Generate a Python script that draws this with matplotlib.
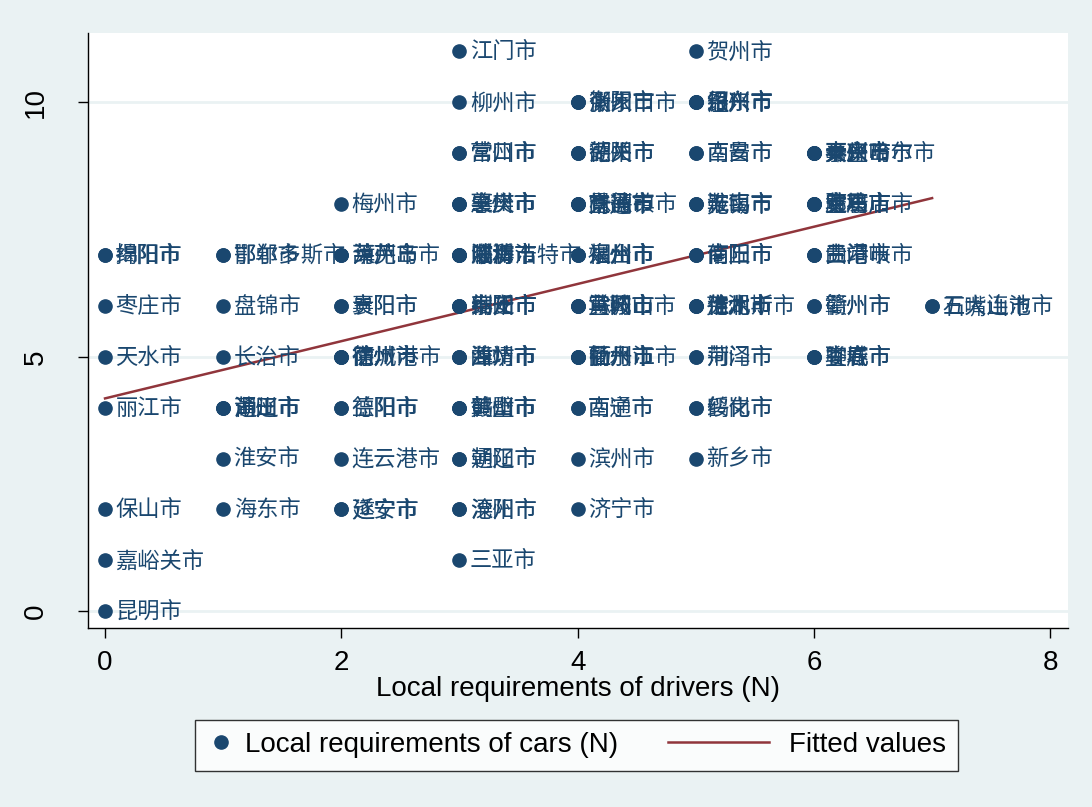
import matplotlib.pyplot as plt
import numpy as np
from matplotlib.legend_handler import HandlerLine2D

plt.rcParams['font.family'] = ['Liberation Sans', 'Noto Sans CJK SC', 'DejaVu Sans']

# cities grouped by (drivers, cars) requirement counts
drivers = [0, 0, 0, 0, 0, 0, 0,
           1, 1, 1, 1, 1, 1,
           2, 2, 2, 2, 2, 2, 2,
           3, 3, 3, 3, 3, 3, 3, 3, 3, 3, 3,
           4, 4, 4, 4, 4, 4, 4, 4, 4,
           5, 5, 5, 5, 5, 5, 5, 5, 5,
           6, 6, 6, 6, 6,
           7]
cars = [7, 6, 5, 4, 2, 1, 0,
        7, 6, 5, 4, 3, 2,
        8, 7, 6, 5, 4, 3, 2,
        11, 10, 9, 8, 7, 6, 5, 4, 3, 2, 1,
        10, 9, 8, 7, 6, 5, 4, 3, 2,
        11, 10, 9, 8, 7, 6, 5, 4, 3,
        9, 8, 7, 6, 5,
        6]
cities = [
    ["揭阳市", "绵阳市"], ["枣庄市"], ["天水市"], ["丽江市"], ["保山市"], ["嘉峪关市"], ["昆明市"],
    ["鄂尔多斯市", "邯郸市"], ["盘锦市"], ["长治市"], ["莆田市", "湖州市", "通辽市"], ["淮安市"], ["海东市"],
    ["梅州市"], ["漳州市", "莱芜市", "葫芦岛市"], ["贵阳市", "襄阳市"],
    ["徐州市", "德州市", "宿州市", "防城港市"], ["德阳市", "益阳市"], ["连云港市"], ["遂宁市", "延安市"],
    ["江门市"], ["柳州市"], ["营口市", "常州市"], ["惠州市", "肇庆市", "襄樊市"],
    ["呼和浩特市", "淄博市", "潍坊市", "临沂市", "威海市"], ["绵阳市", "荆州市", "宿迁市", "泰安市"],
    ["潍坊市", "漳州市", "曲靖市"], ["鹤壁市", "黄山市", "赣州市"], ["通辽市", "朝阳市"],
    ["沧州市", "溧阳市"], ["三亚市"],
    ["潮州市", "衡阳市", "张家口市"], ["湖州市", "德阳市", "韶关市"],
    ["景德镇市", "株洲市", "南通市", "宜昌市"], ["烟台市", "泉州市", "福州市"],
    ["黄冈市", "滁州市", "马鞍山市", "宣城市"], ["扬州市", "衢州市", "丽水市", "牡丹江市"],
    ["西宁市", "南通市"], ["滨州市"], ["济宁市"],
    ["贺州市"], ["银川市", "绍兴市", "温州市", "丹东市"], ["西安市", "南昌市"], ["鞍山市", "无锡市", "淮南市"],
    ["南阳市", "信阳市", "商丘市"], ["芜湖市", "淮北市", "宿州市", "佳木斯市"],
    ["荆门市", "菏泽市"], ["绥化市", "鹤岗市"], ["新乡市"],
    ["齐齐哈尔市", "秦皇岛市", "嘉兴市", "泰州市", "大庆市"],
    ["宝鸡市", "安康市", "驻马店市", "黄石市", "廊坊市"],
    ["曲靖市", "贵港市", "三门峡市"], ["赣州市", "衢州市"], ["娄底市", "聊城市", "宜春市"],
    ["石嘴山市", "五大连池市"],
]

navy = '#1A476F'
maroon = '#90353B'
bg = '#EAF2F3'


class LongLine(HandlerLine2D):
    # legend line that reaches back into the column gap
    def get_xdata(self, legend, xdescent, ydescent, width, height, fontsize):
        xd = np.array([-3.0 * fontsize, width - 0.3 * fontsize])
        return xd, xd


# expand groups into one row per city
x, y, names = [], [], []
for xi, yi, group in zip(drivers, cars, cities):
    for name in group:
        x.append(xi)
        y.append(yi)
        names.append(name)
x = np.array(x)
y = np.array(y)

fig = plt.figure(figsize=(10.92, 8.07), dpi=100, facecolor=bg)
ax = fig.add_axes([0.0806, 0.2218, 0.8974, 0.7372])
ax.set_facecolor('white')

for v in [0, 5, 10]:
    ax.axhline(v, color=bg, lw=2, zorder=0)

pts, = ax.plot(x, y, 'o', color=navy, ms=9.5, zorder=3)
for xi, yi, name in zip(x, y, names):
    ax.annotate(name, (xi, yi), xytext=(7.5, -1), textcoords='offset points',
                va='center', ha='left', fontsize=16, color=navy, zorder=4)

b, a = np.polyfit(x, y, 1)
xs = np.array([x.min(), x.max()])
fit, = ax.plot(xs, a + b * xs, color=maroon, lw=1.8, zorder=2)

ax.set_xlim(-0.144, 8.15)
ax.set_ylim(-0.33, 11.36)
ax.set_xticks([0, 2, 4, 6, 8])
ax.set_yticks([0, 5, 10])
ax.tick_params(labelsize=20, length=7, width=1, direction='out')
ax.tick_params(axis='x', pad=9)
ax.tick_params(axis='y', pad=21)
for lab in ax.get_yticklabels():
    lab.set_rotation(90)
    lab.set_va('center')
ax.set_xlabel('Local requirements of drivers (N)', fontsize=20, labelpad=0)

for s in ['top', 'right']:
    ax.spines[s].set_visible(False)
for s in ['left', 'bottom']:
    ax.spines[s].set_linewidth(1)

leg = fig.legend([pts, fit], ['Local requirements of cars (N)', 'Fitted values'],
                 handler_map={fit: LongLine()},
                 loc='center', bbox_to_anchor=(0.528, 0.0768), ncol=2,
                 fontsize=20, frameon=True, fancybox=False, edgecolor='black',
                 handlelength=0.94, handletextpad=0.4, columnspacing=4.8,
                 borderpad=0.45, numpoints=1)
leg.get_frame().set_linewidth(1)

fig.savefig('out.png', dpi=100, facecolor=bg)
